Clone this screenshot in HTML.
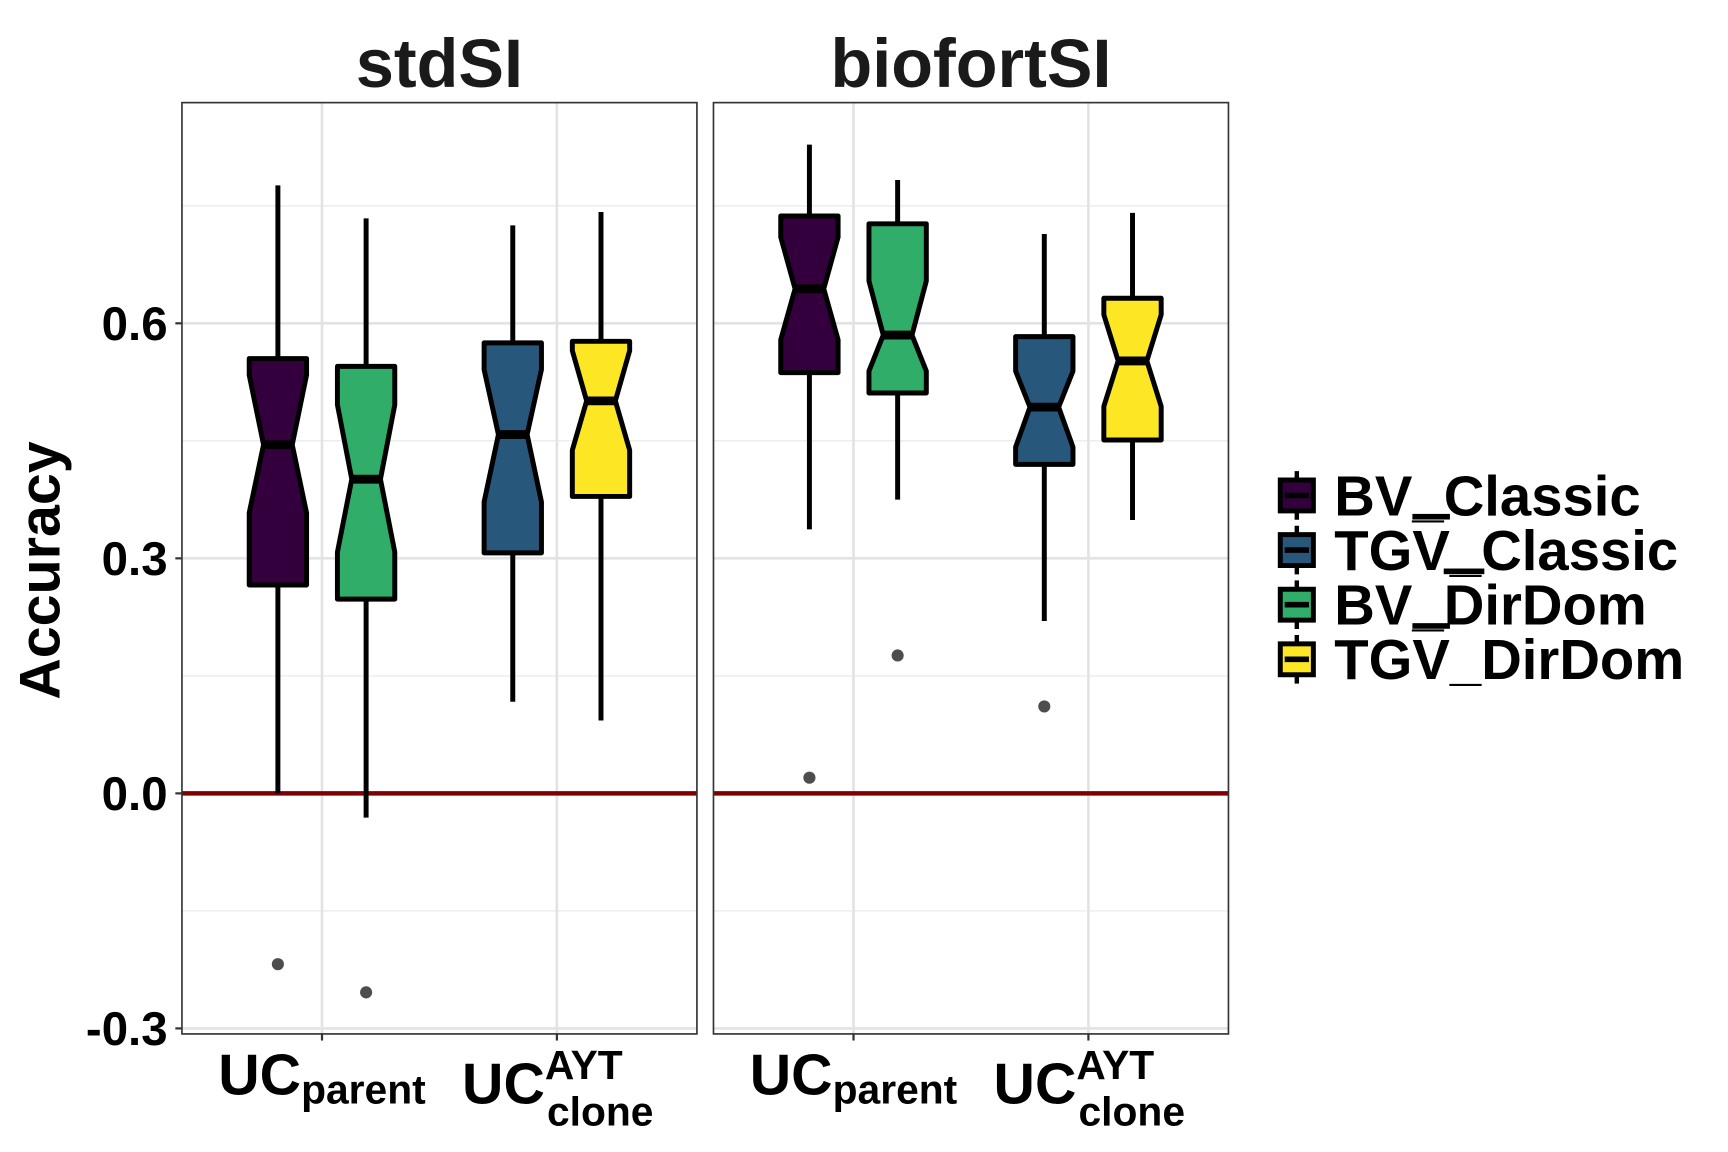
<!DOCTYPE html>
<html><head><meta charset="utf-8"><style>
html,body{margin:0;padding:0;background:#fff;}
svg{display:block;font-family:"Liberation Sans",Arial,sans-serif;font-weight:bold;}
</style></head><body>
<svg id="chart" width="1728" height="1152" viewBox="0 0 1567 1044" preserveAspectRatio="none" xmlns="http://www.w3.org/2000/svg">
<g id="panels"></g>
<g id="legend"></g>
<text x="0" y="0" transform="translate(54,517) rotate(-90)" text-anchor="middle" font-size="52" fill="#000">Accuracy</text>
</svg>
<script>
const panelNames = ["stdSI", "biofortSI"];
const groups = ["parent", "clone"];
const seriesNames = ["BV_Classic", "TGV_Classic", "BV_DirDom", "TGV_DirDom"];
const colors = ["#33003D", "#28577C", "#30AD68", "#FDE725"];
// each box: [panel, group, series, whiskerLow, notchLow, q1, median, q3, notchHigh, whiskerHigh]
const boxStats = [
  [0, 0, 0, 0.000, 0.358, 0.266, 0.445, 0.555, 0.534, 0.776],
  [0, 0, 2, -0.031, 0.308, 0.248, 0.401, 0.545, 0.496, 0.734],
  [0, 1, 1, 0.117, 0.372, 0.307, 0.458, 0.575, 0.541, 0.725],
  [0, 1, 3, 0.093, 0.438, 0.379, 0.501, 0.577, 0.565, 0.742],
  [1, 0, 0, 0.337, 0.579, 0.537, 0.644, 0.737, 0.710, 0.828],
  [1, 0, 2, 0.375, 0.539, 0.511, 0.585, 0.727, 0.654, 0.783],
  [1, 1, 1, 0.220, 0.442, 0.420, 0.493, 0.583, 0.539, 0.714],
  [1, 1, 3, 0.349, 0.494, 0.451, 0.552, 0.632, 0.611, 0.741]
];
// outliers: [panel, group, series, value]
const outliers = [
  [0, 0, 0, -0.218], [0, 0, 2, -0.254],
  [1, 0, 0, 0.020], [1, 0, 2, 0.176], [1, 1, 1, 0.111]
];
const yTicks = [-0.3, 0.0, 0.3, 0.6];
const yTickLabels = ["-0.3", "0.0", "0.3", "0.6"];
const yMinor = [-0.15, 0.15, 0.45, 0.75];

const NS = "http://www.w3.org/2000/svg";
const panelX = [165, 647], panelW = 467, pTop = 93, pBottom = 937;
function yScale(v){ return 719 - v * 710; }
function groupX(p, g){ return panelX[p] + 127 + g * 213; }
function seriesOffset(s){ return (s === 0 || s === 1) ? -40 : 40; }
function mk(tag, attrs, parent){
  const e = document.createElementNS(NS, tag);
  for (const k in attrs) e.setAttribute(k, attrs[k]);
  parent.appendChild(e); return e;
}
const svg = document.getElementById("chart");
const panels = document.getElementById("panels");

panelNames.forEach((name, p) => {
  const g = mk("g", {}, panels);
  
  
  const x0 = panelX[p];
  mk("rect", {x: x0, y: pTop, width: panelW, height: pBottom - pTop, fill: "#fff"}, g);
  yMinor.forEach(v => mk("line", {x1: x0, x2: x0 + panelW, y1: yScale(v), y2: yScale(v), stroke: "#ebebeb", "stroke-width": 1.2}, g));
  yTicks.forEach(v => mk("line", {x1: x0, x2: x0 + panelW, y1: yScale(v), y2: yScale(v), stroke: "#e3e3e3", "stroke-width": 2.4}, g));
  groups.forEach((gr, gi) => mk("line", {x1: groupX(p, gi), x2: groupX(p, gi), y1: pTop, y2: pBottom, stroke: "#e3e3e3", "stroke-width": 2.4}, g));
  const zl = mk("line", {x1: x0, x2: x0 + panelW, y1: yScale(0), y2: yScale(0), stroke: "#7F0000", "stroke-width": 4}, g);
  
  
  const t = mk("text", {x: x0 + panelW / 2, y: 79, "text-anchor": "middle", "font-size": 62, fill: "#1a1a1a"}, g);
  t.textContent = name;
  
  
  groups.forEach((gr, gi) => {
    const cx = groupX(p, gi);
    mk("line", {x1: cx, x2: cx, y1: pBottom, y2: pBottom + 6, stroke: "#333", "stroke-width": 2}, g);
    const lbl = mk("text", {x: cx, y: 992, "text-anchor": "middle", "font-size": 52, fill: "#000"}, g);
    
    
    if (gi === 0) {
      lbl.innerHTML = 'UC<tspan font-size="37" dy="8">parent</tspan>';
    } else {
      lbl.setAttribute("text-anchor", "start");
      lbl.setAttribute("x", cx - 86);
      lbl.setAttribute("y", 1000);
      lbl.innerHTML = 'UC<tspan font-size="37" dy="-22">AYT</tspan><tspan font-size="37" x="' + (cx - 9) + '" dy="42">clone</tspan>';
    }
  });
  mk("rect", {x: x0, y: pTop, width: panelW, height: pBottom - pTop, fill: "none", stroke: "#333", "stroke-width": 1.5}, g);
});
yTicks.forEach((v, i) => {
  mk("line", {x1: 159, x2: 165, y1: yScale(v), y2: yScale(v), stroke: "#333", "stroke-width": 2}, svg);
  const t = mk("text", {x: 152, y: yScale(v) + 15, "text-anchor": "end", "font-size": 43, fill: "#000"}, svg);
  t.textContent = yTickLabels[i];
  
  
});
const hw = 26, nw = 13;
boxStats.forEach(b => {
  const [p, gi, s, wl, nl, q1, med, q3, nh, wh] = b;
  const cx = groupX(p, gi) + seriesOffset(s);
  const g = mk("g", {}, panels);
  
  
  mk("line", {x1: cx, x2: cx, y1: yScale(wl), y2: yScale(q1), stroke: "#000", "stroke-width": 4.5}, g);
  mk("line", {x1: cx, x2: cx, y1: yScale(wh), y2: yScale(q3), stroke: "#000", "stroke-width": 4.5}, g);
  const Q3 = yScale(q3), NH = yScale(nh), M = yScale(med), NL = yScale(nl), Q1 = yScale(q1);
  const pts = [[cx-hw,Q3],[cx+hw,Q3],[cx+hw,NH],[cx+nw,M],[cx+hw,NL],[cx+hw,Q1],[cx-hw,Q1],[cx-hw,NL],[cx-nw,M],[cx-hw,NH]];
  mk("polygon", {points: pts.map(q => q.join(",")).join(" "), fill: colors[s], stroke: "#000", "stroke-width": 4.5, "stroke-linejoin": "round"}, g);
  mk("line", {x1: cx - nw, x2: cx + nw, y1: M, y2: M, stroke: "#000", "stroke-width": 8}, g);
});
outliers.forEach(o => {
  const [p, gi, s, v] = o;
  const c = mk("circle", {cx: groupX(p, gi) + seriesOffset(s), cy: yScale(v), r: 5.5, fill: "#4d4d4d"}, panels);
  
  
});
const leg = document.getElementById("legend");
const legendLabels = ['BV_Classic', 'TG<tspan text-decoration="overline">V</tspan>_Classic', 'BV_<tspan text-decoration="overline">D</tspan>irDom', 'TG<tspan text-decoration="overline">V</tspan>_DirDom'];
seriesNames.forEach((n, i) => {
  const cy = 449 + i * 49.5;
  const g = mk("g", {}, leg);
  
  
  mk("line", {x1: 1176, x2: 1176, y1: cy - 22, y2: cy + 22, stroke: "#000", "stroke-width": 4}, g);
  mk("rect", {x: 1161, y: cy - 14, width: 30, height: 28, fill: colors[i], stroke: "#000", "stroke-width": 4.5}, g);
  mk("line", {x1: 1165, x2: 1187, y1: cy, y2: cy, stroke: "#000", "stroke-width": 5}, g);
  const t = mk("text", {x: 1210, y: cy + 18, "font-size": 51, fill: "#000"}, g);
  t.innerHTML = legendLabels[i];
});
</script>
</body></html>
